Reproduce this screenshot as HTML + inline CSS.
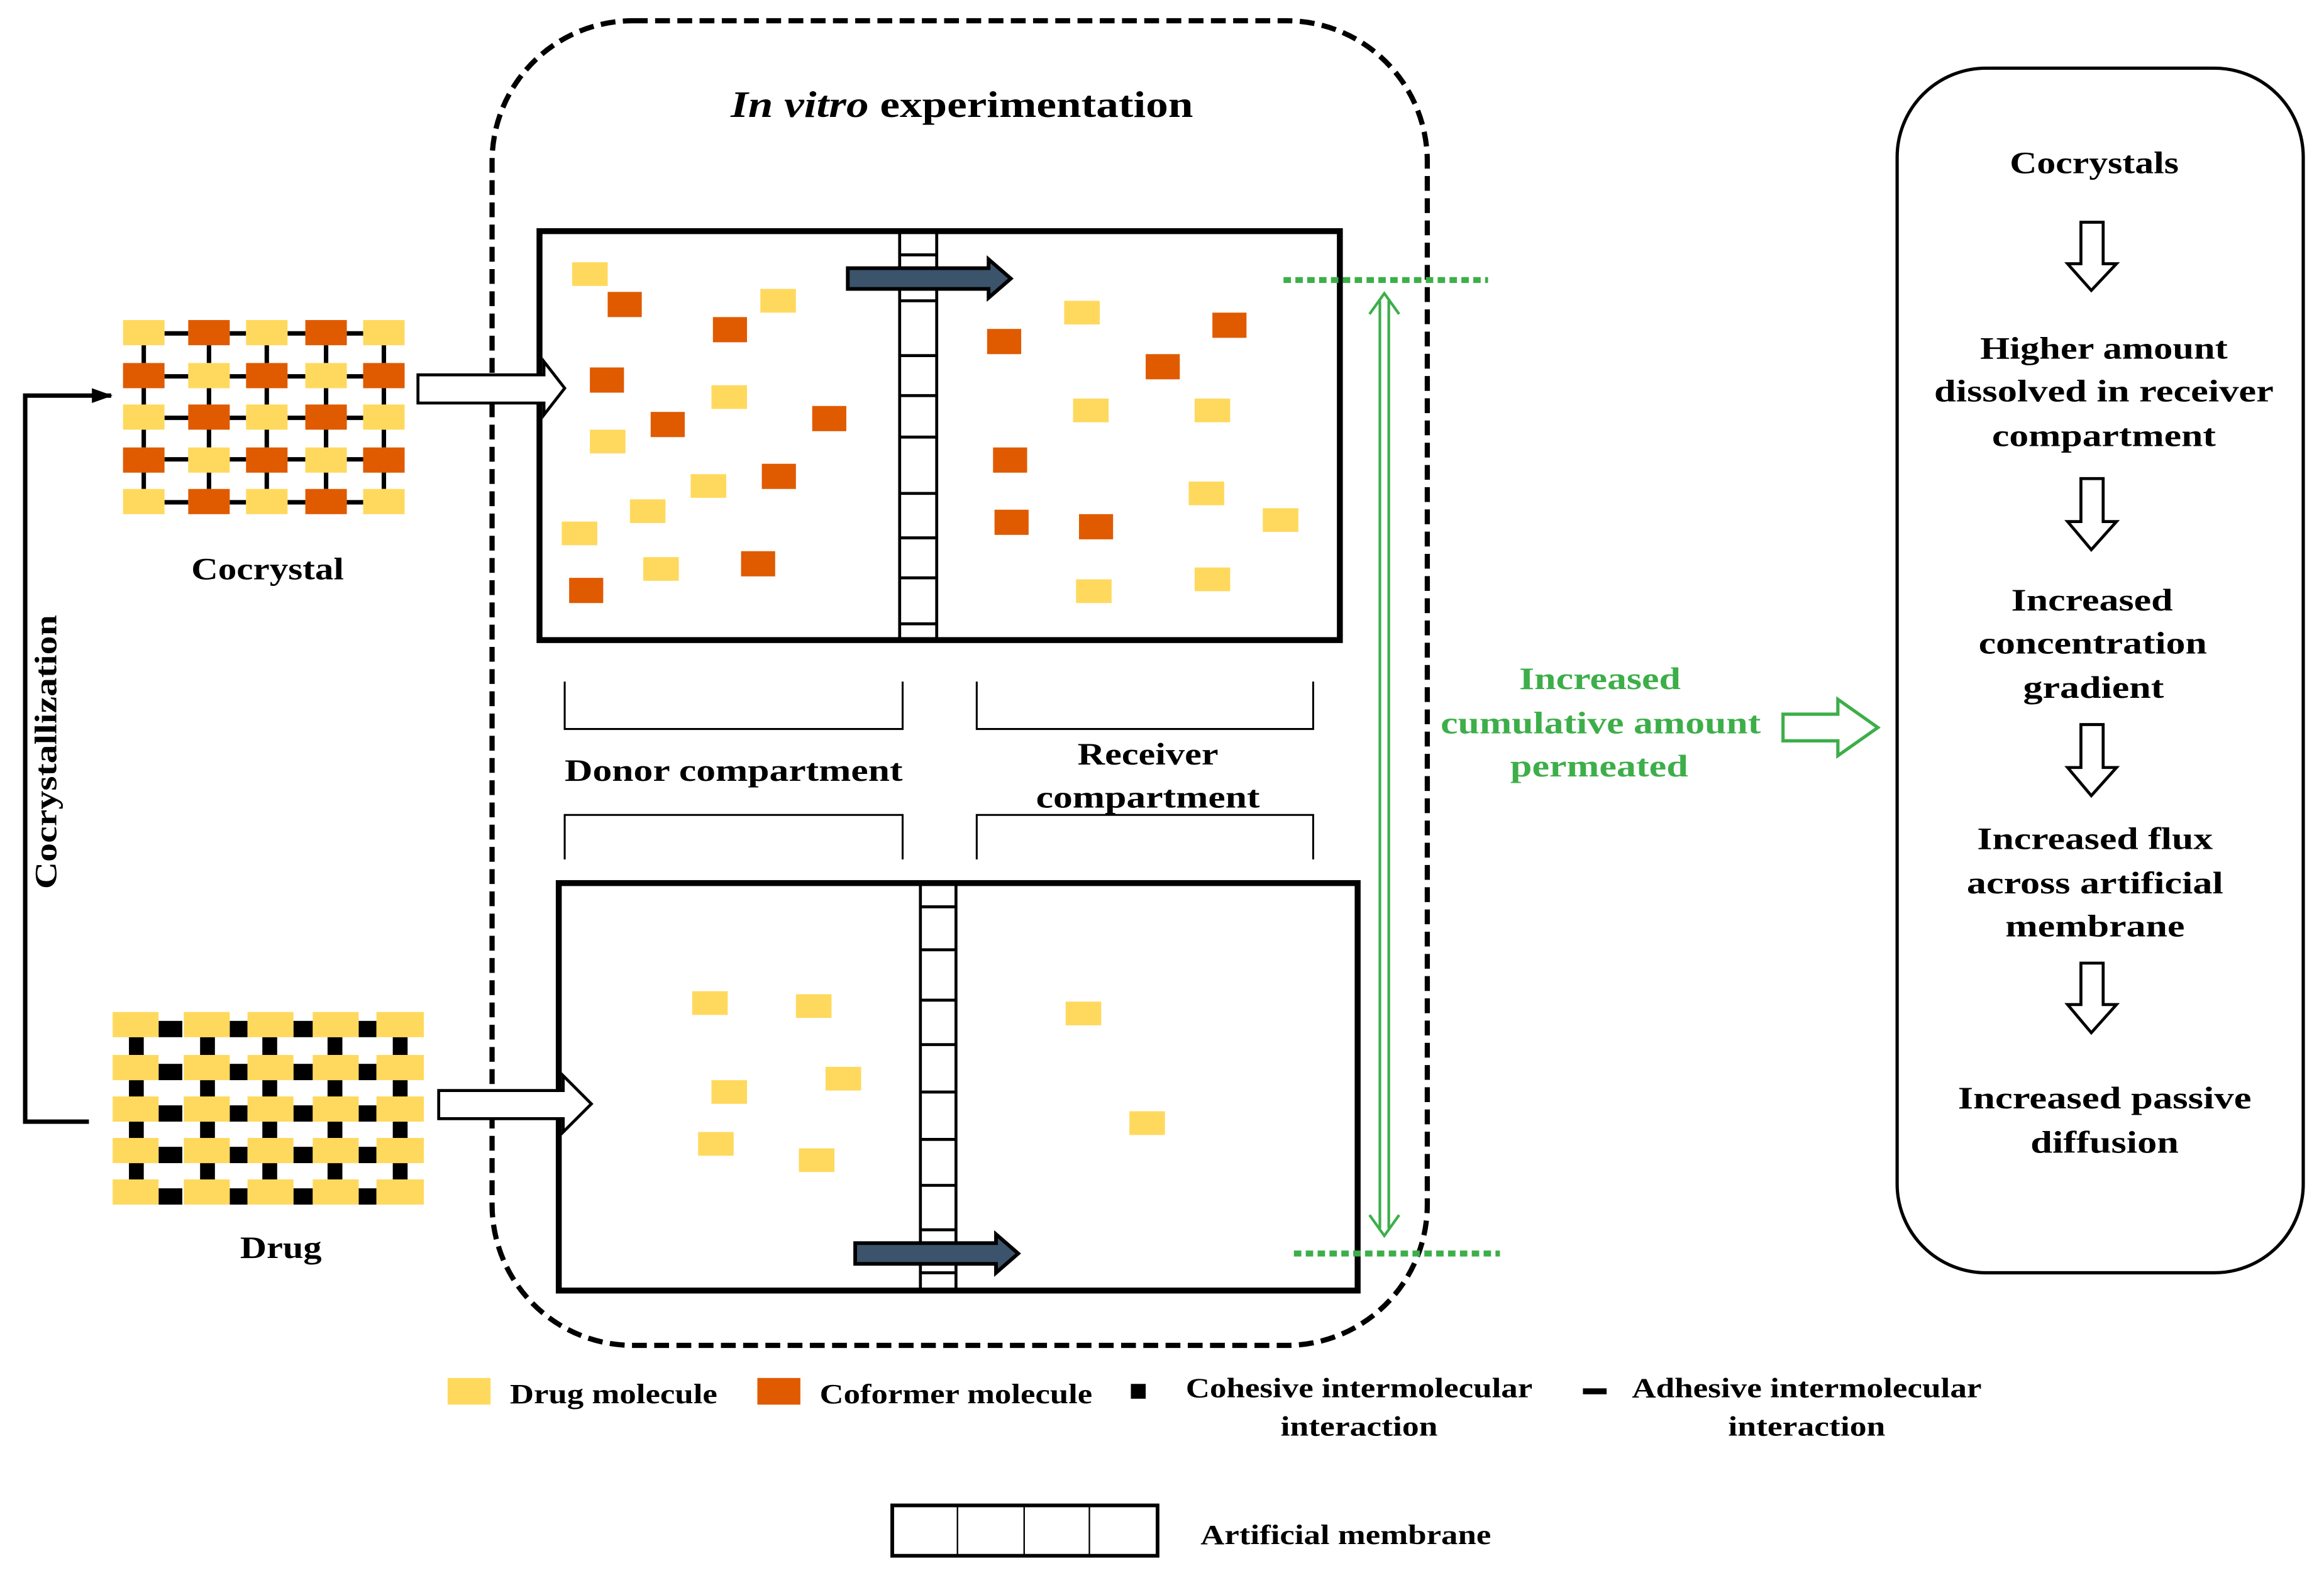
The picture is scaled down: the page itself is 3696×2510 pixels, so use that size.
<!DOCTYPE html>
<html><head><meta charset="utf-8"><style>html,body{margin:0;padding:0;background:#fff}svg{display:block}</style></head>
<body>
<svg xmlns="http://www.w3.org/2000/svg" width="3696" height="2510" viewBox="0 0 1568 1065" preserveAspectRatio="none" font-family="'Liberation Serif',serif" font-weight="bold">
<rect width="1568" height="1065" fill="#fff"/>
<defs>
<marker id="ah" markerWidth="14" markerHeight="10" refX="13" refY="5" orient="auto" markerUnits="userSpaceOnUse"><path d="M0,0 L14,5 L0,10 Z" fill="#000"/></marker>
</defs>

<!-- Cocrystal lattice bonds -->
<g stroke="#000" stroke-width="3">
<g id="hb">
<line x1="111" y1="225" x2="127" y2="225"/><line x1="155" y1="225" x2="166" y2="225"/><line x1="194" y1="225" x2="206" y2="225"/><line x1="234" y1="225" x2="245" y2="225"/>
</g>
<use href="#hb" y="29"/><use href="#hb" y="57"/><use href="#hb" y="85"/><use href="#hb" y="114"/>
<g id="vb">
<line x1="97" y1="233" x2="97" y2="245"/><line x1="141" y1="233" x2="141" y2="245"/><line x1="180" y1="233" x2="180" y2="245"/><line x1="220" y1="233" x2="220" y2="245"/><line x1="259" y1="233" x2="259" y2="245"/>
</g>
<use href="#vb" y="29"/><use href="#vb" y="57"/><use href="#vb" y="85"/>
</g>
<g>
<g id="rA"><rect x="83" y="216" width="28" height="17" fill="#FFD95E"/><rect x="127" y="216" width="28" height="17" fill="#E05A00"/><rect x="166" y="216" width="28" height="17" fill="#FFD95E"/><rect x="206" y="216" width="28" height="17" fill="#E05A00"/><rect x="245" y="216" width="28" height="17" fill="#FFD95E"/></g>
<g id="rB"><rect x="83" y="245" width="28" height="17" fill="#E05A00"/><rect x="127" y="245" width="28" height="17" fill="#FFD95E"/><rect x="166" y="245" width="28" height="17" fill="#E05A00"/><rect x="206" y="245" width="28" height="17" fill="#FFD95E"/><rect x="245" y="245" width="28" height="17" fill="#E05A00"/></g>
<use href="#rA" y="57"/><use href="#rB" y="57"/><use href="#rA" y="114"/>
</g>
<text x="129" y="391" font-size="21" textLength="103" lengthAdjust="spacingAndGlyphs">Cocrystal</text>

<!-- Drug lattice -->
<g fill="#000">
<g id="dh"><rect x="107" y="689" width="16" height="11"/><rect x="155" y="689" width="12" height="11"/><rect x="198" y="689" width="13" height="11"/><rect x="242" y="689" width="12" height="11"/></g>
<use href="#dh" y="29"/><use href="#dh" y="57"/><use href="#dh" y="85"/><use href="#dh" y="113"/>
<g id="dv"><rect x="87" y="700" width="10" height="12"/><rect x="135" y="700" width="10" height="12"/><rect x="177" y="700" width="10" height="12"/><rect x="221" y="700" width="10" height="12"/><rect x="265" y="700" width="10" height="12"/></g>
<use href="#dv" y="29"/><use href="#dv" y="57"/><use href="#dv" y="85"/>
</g>
<g fill="#FFD95E">
<g id="dr"><rect x="76" y="683" width="31" height="17"/><rect x="124" y="683" width="31" height="17"/><rect x="167" y="683" width="31" height="17"/><rect x="211" y="683" width="31" height="17"/><rect x="254" y="683" width="32" height="17"/></g>
<use href="#dr" y="29"/><use href="#dr" y="57"/><use href="#dr" y="85"/><use href="#dr" y="113"/>
</g>
<text x="162" y="849" font-size="21" textLength="55" lengthAdjust="spacingAndGlyphs">Drug</text>

<!-- Cocrystallization bracket -->
<path d="M60,757 L17,757 L17,267 L75,267" fill="none" stroke="#000" stroke-width="3" marker-end="url(#ah)"/>
<text transform="translate(38,600) rotate(-90)" font-size="21" textLength="185" lengthAdjust="spacingAndGlyphs">Cocrystallization</text>

<!-- dashed experiment box -->
<rect x="332" y="14" width="631" height="894" rx="95" ry="95" fill="none" stroke="#000" stroke-width="3.5" stroke-dasharray="10,5"/>
<text x="493" y="79" font-size="25" textLength="312" lengthAdjust="spacingAndGlyphs"><tspan font-style="italic">In vitro</tspan> experimentation</text>

<!-- top compartment -->
<rect x="364" y="156" width="540" height="276" fill="#fff" stroke="#000" stroke-width="4"/>
<g stroke="#000" stroke-width="2">
<line x1="607" y1="156" x2="607" y2="432"/><line x1="632" y1="156" x2="632" y2="432"/>
<line x1="607" y1="172" x2="632" y2="172"/><line x1="607" y1="203" x2="632" y2="203"/><line x1="607" y1="240" x2="632" y2="240"/><line x1="607" y1="267" x2="632" y2="267"/><line x1="607" y1="295" x2="632" y2="295"/><line x1="607" y1="333" x2="632" y2="333"/><line x1="607" y1="363" x2="632" y2="363"/><line x1="607" y1="390" x2="632" y2="390"/><line x1="607" y1="421" x2="632" y2="421"/>
</g>
<path d="M572,181 L667,181 L667,175 L682,188 L667,201 L667,195 L572,195 Z" fill="#3B536B" stroke="#000" stroke-width="2.5"/>
<g fill="#FFD95E">
<rect x="386" y="177" width="24" height="16"/><rect x="513" y="195" width="24" height="16"/><rect x="480" y="260" width="24" height="16"/><rect x="398" y="290" width="24" height="16"/><rect x="466" y="320" width="24" height="16"/><rect x="425" y="337" width="24" height="16"/><rect x="379" y="352" width="24" height="16"/><rect x="434" y="376" width="24" height="16"/>
<rect x="718" y="203" width="24" height="16"/><rect x="724" y="269" width="24" height="16"/><rect x="806" y="269" width="24" height="16"/><rect x="802" y="325" width="24" height="16"/><rect x="852" y="343" width="24" height="16"/><rect x="726" y="391" width="24" height="16"/><rect x="806" y="383" width="24" height="16"/>
<rect x="467" y="669" width="24" height="16"/><rect x="537" y="671" width="24" height="16"/><rect x="480" y="729" width="24" height="16"/><rect x="557" y="720" width="24" height="16"/><rect x="471" y="764" width="24" height="16"/><rect x="539" y="775" width="24" height="16"/><rect x="719" y="676" width="24" height="16"/><rect x="762" y="750" width="24" height="16"/>
</g>
<g fill="#E05A00">
<rect x="410" y="197" width="23" height="17"/><rect x="481" y="214" width="23" height="17"/><rect x="398" y="248" width="23" height="17"/><rect x="439" y="278" width="23" height="17"/><rect x="548" y="274" width="23" height="17"/><rect x="514" y="313" width="23" height="17"/><rect x="384" y="390" width="23" height="17"/><rect x="500" y="372" width="23" height="17"/>
<rect x="666" y="222" width="23" height="17"/><rect x="818" y="211" width="23" height="17"/><rect x="773" y="239" width="23" height="17"/><rect x="670" y="302" width="23" height="17"/><rect x="671" y="344" width="23" height="17"/><rect x="728" y="347" width="23" height="17"/>
</g>

<!-- brackets -->
<g fill="none" stroke="#000" stroke-width="1.3">
<path d="M381,460 L381,492 L609,492 L609,460"/>
<path d="M659,460 L659,492 L886,492 L886,460"/>
<path d="M381,580 L381,550 L609,550 L609,580"/>
<path d="M659,580 L659,550 L886,550 L886,580"/>
</g>
<text x="381" y="527" font-size="21" textLength="228" lengthAdjust="spacingAndGlyphs">Donor compartment</text>
<text x="727" y="516" font-size="21" textLength="95" lengthAdjust="spacingAndGlyphs">Receiver</text>
<text x="699" y="545" font-size="21" textLength="151" lengthAdjust="spacingAndGlyphs">compartment</text>

<!-- bottom compartment -->
<rect x="377" y="596" width="539" height="275" fill="none" stroke="#000" stroke-width="4"/>
<g stroke="#000" stroke-width="2">
<line x1="621" y1="596" x2="621" y2="871"/><line x1="645" y1="596" x2="645" y2="871"/>
<line x1="621" y1="612" x2="645" y2="612"/><line x1="621" y1="641" x2="645" y2="641"/><line x1="621" y1="675" x2="645" y2="675"/><line x1="621" y1="705" x2="645" y2="705"/><line x1="621" y1="737" x2="645" y2="737"/><line x1="621" y1="769" x2="645" y2="769"/><line x1="621" y1="800" x2="645" y2="800"/><line x1="621" y1="830" x2="645" y2="830"/><line x1="621" y1="859" x2="645" y2="859"/>
</g>
<path d="M577,839 L672,839 L672,833 L687,846 L672,859 L672,853 L577,853 Z" fill="#3B536B" stroke="#000" stroke-width="2.5"/>

<!-- hollow arrows into compartments (drawn on top) -->
<path d="M282,253 L367,253 L367,244 L381,262 L367,280 L367,272 L282,272 Z" fill="#fff" stroke="#000" stroke-width="2"/>
<path d="M296,736 L380,736 L380,726 L399,745 L380,764 L380,755 L296,755 Z" fill="#fff" stroke="#000" stroke-width="2"/>

<!-- green -->
<g stroke="#3DAE49" fill="none">
<line x1="866" y1="189" x2="1004" y2="189" stroke-width="4" stroke-dasharray="5,3"/>
<line x1="873" y1="846" x2="1012" y2="846" stroke-width="4" stroke-dasharray="5,3"/>
<line x1="931" y1="203" x2="931" y2="829" stroke-width="1.8"/>
<line x1="937" y1="203" x2="937" y2="829" stroke-width="1.8"/>
<path d="M924,212 L934,198 L944,212" stroke-width="1.8"/>
<path d="M924,820 L934,834 L944,820" stroke-width="1.8"/>
<path d="M1203,482 L1240,482 L1240,472 L1267,491 L1240,510 L1240,500 L1203,500 Z" stroke-width="2.2"/>
</g>
<g fill="#3DAE49" font-size="21">
<text x="1025" y="465" textLength="109" lengthAdjust="spacingAndGlyphs">Increased</text>
<text x="972" y="495" textLength="216" lengthAdjust="spacingAndGlyphs">cumulative amount</text>
<text x="1019" y="524" textLength="120" lengthAdjust="spacingAndGlyphs">permeated</text>
</g>

<!-- right box -->
<rect x="1280" y="46" width="274" height="813" rx="60" ry="60" fill="none" stroke="#000" stroke-width="2.2"/>
<g font-size="21" lengthAdjust="spacingAndGlyphs">
<text x="1356" y="117" textLength="114" lengthAdjust="spacingAndGlyphs">Cocrystals</text>
<text x="1336" y="242" textLength="167" lengthAdjust="spacingAndGlyphs">Higher amount</text>
<text x="1305" y="271" textLength="229" lengthAdjust="spacingAndGlyphs">dissolved in receiver</text>
<text x="1344" y="301" textLength="151" lengthAdjust="spacingAndGlyphs">compartment</text>
<text x="1357" y="412" textLength="109" lengthAdjust="spacingAndGlyphs">Increased</text>
<text x="1335" y="441" textLength="154" lengthAdjust="spacingAndGlyphs">concentration</text>
<text x="1365" y="471" textLength="95" lengthAdjust="spacingAndGlyphs">gradient</text>
<text x="1334" y="573" textLength="159" lengthAdjust="spacingAndGlyphs">Increased flux</text>
<text x="1327" y="603" textLength="173" lengthAdjust="spacingAndGlyphs">across artificial</text>
<text x="1353" y="632" textLength="121" lengthAdjust="spacingAndGlyphs">membrane</text>
<text x="1321" y="748" textLength="198" lengthAdjust="spacingAndGlyphs">Increased passive</text>
<text x="1370" y="778" textLength="100" lengthAdjust="spacingAndGlyphs">diffusion</text>
</g>
<g fill="#fff" stroke="#000" stroke-width="2">
<path d="M1404,150 L1419,150 L1419,178 L1428,178 L1411,196 L1395,178 L1404,178 Z"/>
<path d="M1404,323 L1419,323 L1419,352 L1428,352 L1411,371 L1395,352 L1404,352 Z"/>
<path d="M1404,489 L1419,489 L1419,518 L1428,518 L1411,537 L1395,518 L1404,518 Z"/>
<path d="M1404,650 L1419,650 L1419,678 L1428,678 L1411,697 L1395,678 L1404,678 Z"/>
</g>

<!-- legend -->
<rect x="302" y="930" width="29" height="18" fill="#FFD95E"/>
<text x="344" y="947" font-size="19" textLength="140" lengthAdjust="spacingAndGlyphs">Drug molecule</text>
<rect x="511" y="930" width="29" height="18" fill="#E05A00"/>
<text x="553" y="947" font-size="19" textLength="184" lengthAdjust="spacingAndGlyphs">Coformer molecule</text>
<rect x="763" y="934" width="10" height="10" fill="#000"/>
<text x="800" y="943" font-size="19" textLength="234" lengthAdjust="spacingAndGlyphs">Cohesive intermolecular</text>
<text x="864" y="969" font-size="19" textLength="106" lengthAdjust="spacingAndGlyphs">interaction</text>
<rect x="1068" y="937" width="16" height="4" fill="#000"/>
<text x="1101" y="943" font-size="19" textLength="236" lengthAdjust="spacingAndGlyphs">Adhesive intermolecular</text>
<text x="1166" y="969" font-size="19" textLength="106" lengthAdjust="spacingAndGlyphs">interaction</text>
<rect x="602" y="1016" width="179" height="34" fill="none" stroke="#000" stroke-width="2.5"/>
<g stroke="#000" stroke-width="1"><line x1="646" y1="1017" x2="646" y2="1049"/><line x1="691" y1="1017" x2="691" y2="1049"/><line x1="735" y1="1017" x2="735" y2="1049"/></g>
<text x="810" y="1042" font-size="19" textLength="196" lengthAdjust="spacingAndGlyphs">Artificial membrane</text>
</svg>
</body></html>
